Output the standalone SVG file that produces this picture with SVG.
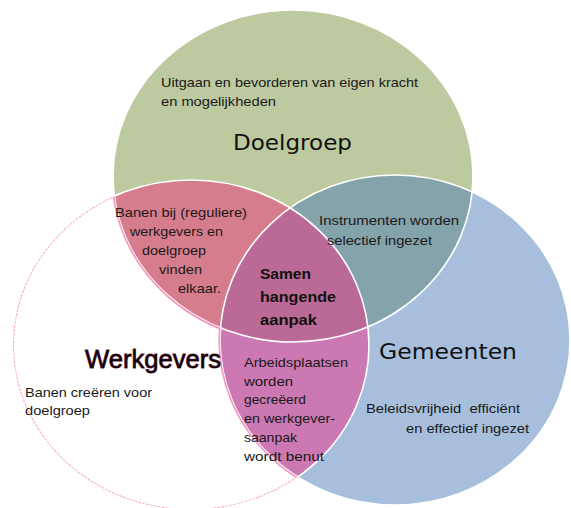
<svg xmlns="http://www.w3.org/2000/svg" width="571" height="508" viewBox="0 0 571 508">
<style>
.t{font-family:"Liberation Sans",Arial,sans-serif;font-size:13px;fill:#1a1a1a}
.b{font-family:"Liberation Sans",Arial,sans-serif;font-size:14.5px;font-weight:bold;fill:#111}
.h{font-family:"DejaVu Sans","Liberation Sans",sans-serif;font-size:22px;fill:#111}
.w{font-family:"Liberation Sans",Arial,sans-serif;font-size:26px;fill:#120208;stroke:#6a1c40;stroke-width:0.9;paint-order:stroke}
.ws{fill:none;stroke:#fff;stroke-width:1.6}
.ps{fill:none;stroke:#f39cc4;stroke-width:3.5}
</style>
<defs>
<clipPath id="cG"><ellipse cx="293" cy="176" rx="180" ry="166"/></clipPath>
<clipPath id="cW"><ellipse cx="191" cy="345" rx="178" ry="165"/></clipPath>
<clipPath id="cM"><ellipse cx="395" cy="340" rx="175" ry="165"/></clipPath>
<mask id="mWhite" maskUnits="userSpaceOnUse" x="0" y="0" width="571" height="508">
<ellipse cx="191" cy="345" rx="178" ry="165" fill="#fff"/>
<ellipse cx="293" cy="176" rx="180" ry="166" fill="#000"/>
<ellipse cx="395" cy="340" rx="175" ry="165" fill="#000"/>
</mask>
</defs>
<rect width="571" height="508" fill="#fff"/>
<g id="doelgroep">
<ellipse cx="293" cy="176" rx="180" ry="166" fill="#bdc99f"/>
</g>
<g id="gemeenten">
<ellipse cx="395" cy="340" rx="175" ry="165" fill="#a7bfdd"/>
</g>
<g id="werkgevers">
<ellipse cx="191" cy="345" rx="178" ry="165" fill="#fff"/>
</g>
<g id="overlap-doelgroep-werkgevers">
<ellipse cx="293" cy="176" rx="180" ry="166" fill="#d67d8d" clip-path="url(#cW)"/>
</g>
<g id="overlap-doelgroep-gemeenten">
<ellipse cx="293" cy="176" rx="180" ry="166" fill="#84a3ab" clip-path="url(#cM)"/>
</g>
<g id="overlap-werkgevers-gemeenten">
<ellipse cx="191" cy="345" rx="178" ry="165" fill="#cc78b2" clip-path="url(#cM)"/>
</g>
<g id="overlap-all" clip-path="url(#cW)">
<ellipse cx="293" cy="176" rx="180" ry="166" fill="#bb6a97" clip-path="url(#cM)"/>
</g>
<g id="outlines">
<ellipse class="ws" cx="191" cy="345" rx="178" ry="165"/>
<ellipse class="ws" cx="293" cy="176" rx="180" ry="166"/>
<ellipse class="ws" cx="395" cy="340" rx="175" ry="165"/>
<g mask="url(#mWhite)">
<ellipse class="ps" cx="293" cy="176" rx="180" ry="166"/>
<ellipse class="ps" cx="395" cy="340" rx="175" ry="165"/>
<ellipse cx="191" cy="345" rx="178" ry="165" fill="none" stroke="#f5a6c8" stroke-width="2" stroke-dasharray="3 1"/>
</g>
</g>
<g id="labels">
<text class="t" x="161" y="87" textLength="257" lengthAdjust="spacingAndGlyphs">Uitgaan en bevorderen van eigen kracht</text>
<text class="t" x="161" y="106" textLength="115" lengthAdjust="spacingAndGlyphs">en mogelijkheden</text>
<text class="h" x="233" y="150" textLength="119" lengthAdjust="spacingAndGlyphs">Doelgroep</text>
<text class="t" x="115" y="217" textLength="132" lengthAdjust="spacingAndGlyphs">Banen bij (reguliere)</text>
<text class="t" x="130" y="236" textLength="93" lengthAdjust="spacingAndGlyphs">werkgevers en</text>
<text class="t" x="142" y="255" textLength="64" lengthAdjust="spacingAndGlyphs">doelgroep</text>
<text class="t" x="159" y="274" textLength="43" lengthAdjust="spacingAndGlyphs">vinden</text>
<text class="t" x="178" y="293" textLength="43" lengthAdjust="spacingAndGlyphs">elkaar.</text>
<text class="b" x="260" y="279" textLength="51" lengthAdjust="spacingAndGlyphs">Samen</text>
<text class="b" x="260" y="302" textLength="76" lengthAdjust="spacingAndGlyphs">hangende</text>
<text class="b" x="260" y="325" textLength="57" lengthAdjust="spacingAndGlyphs">aanpak</text>
<text class="t" x="319" y="225" textLength="140" lengthAdjust="spacingAndGlyphs">Instrumenten worden</text>
<text class="t" x="327" y="245" textLength="105" lengthAdjust="spacingAndGlyphs">selectief ingezet</text>
<text class="w" x="85" y="368" textLength="136" lengthAdjust="spacingAndGlyphs">Werkgevers</text>
<text class="t" x="25" y="397" textLength="127" lengthAdjust="spacingAndGlyphs">Banen creëren voor</text>
<text class="t" x="25" y="415" textLength="65" lengthAdjust="spacingAndGlyphs">doelgroep</text>
<text class="t" x="244" y="367" textLength="104" lengthAdjust="spacingAndGlyphs">Arbeidsplaatsen</text>
<text class="t" x="244" y="386" textLength="49" lengthAdjust="spacingAndGlyphs">worden</text>
<text class="t" x="244" y="404" textLength="62" lengthAdjust="spacingAndGlyphs">gecreëerd</text>
<text class="t" x="244" y="423" textLength="91" lengthAdjust="spacingAndGlyphs">en werkgever-</text>
<text class="t" x="244" y="442" textLength="53" lengthAdjust="spacingAndGlyphs">saanpak</text>
<text class="t" x="244" y="461" textLength="80" lengthAdjust="spacingAndGlyphs">wordt benut</text>
<text class="h" x="379" y="359" textLength="138" lengthAdjust="spacingAndGlyphs">Gemeenten</text>
<text class="t" x="366" y="413" textLength="154" lengthAdjust="spacingAndGlyphs" xml:space="preserve">Beleidsvrijheid  efficiënt</text>
<text class="t" x="406" y="433" textLength="123" lengthAdjust="spacingAndGlyphs">en effectief ingezet</text>
</g>
</svg>
